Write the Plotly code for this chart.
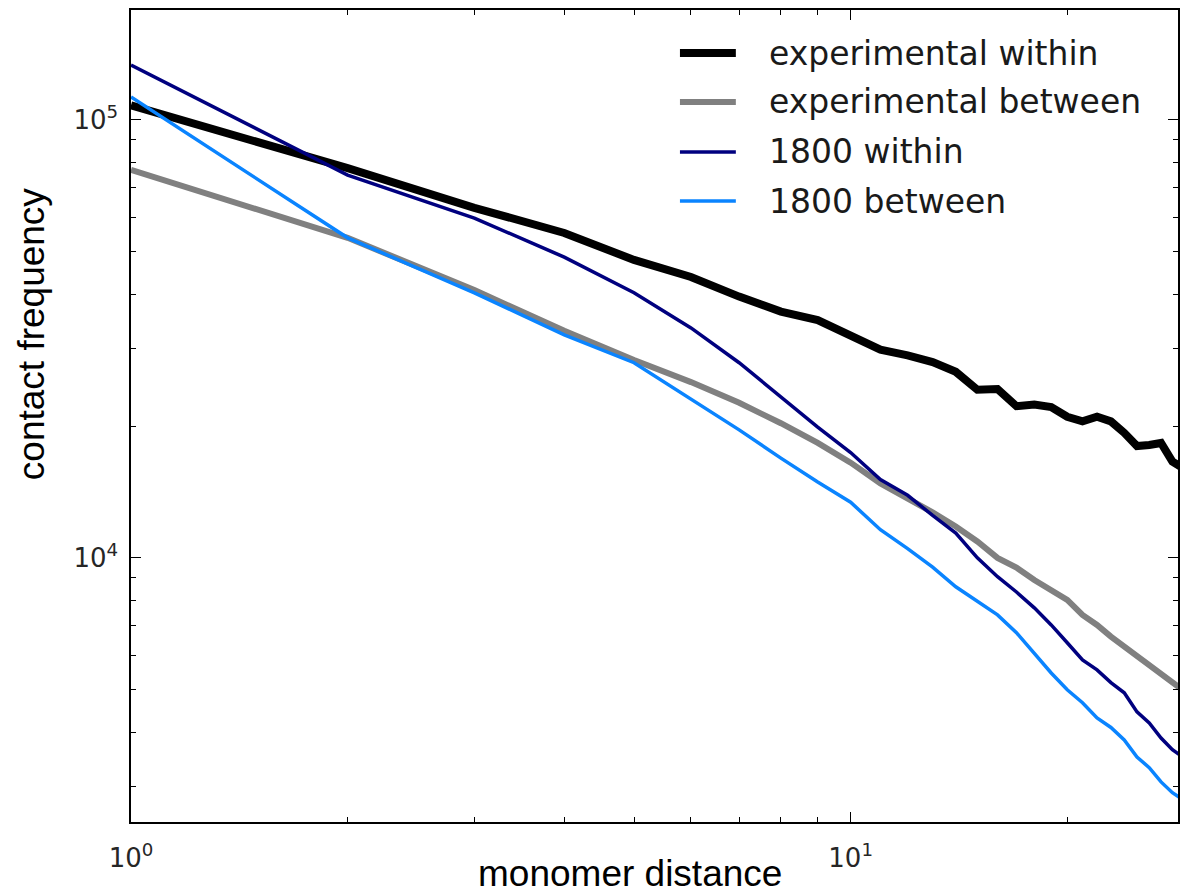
import numpy as np
import plotly.graph_objects as go

# monomer distance (x) and contact frequencies for each curve
distance = list(range(1, 30))

exp_within = [1.08e5, 7.76e4, 6.3e4, 5.52e4, 4.79e4, 4.38e4, 3.95e4, 3.65e4, 3.49e4, 3.23e4,
              2.99e4, 2.90e4, 2.80e4, 2.66e4, 2.42e4, 2.43e4, 2.22e4, 2.24e4, 2.21e4, 2.10e4,
              2.05e4, 2.10e4, 2.05e4, 1.93e4, 1.80e4, 1.81e4, 1.83e4, 1.66e4, 1.60e4]

exp_between = [7.69e4, 5.38e4, 4.09e4, 3.30e4, 2.83e4, 2.52e4, 2.26e4, 2.03e4, 1.83e4, 1.65e4,
               1.48e4, 1.37e4, 1.27e4, 1.18e4, 1.09e4, 1.00e4, 9.5e3, 8.9e3, 8.46e3, 8.02e3,
               7.41e3, 7.03e3, 6.61e3, 6.27e3, 5.95e3, 5.70e3, 5.46e3, 5.19e3, 4.98e3]

sim_within = [1.335e5, 7.48e4, 5.97e4, 4.86e4, 4.03e4, 3.35e4, 2.79e4, 2.33e4, 1.99e4, 1.74e4,
              1.51e4, 1.39e4, 1.25e4, 1.14e4, 1.00e4, 9.06e3, 8.36e3, 7.69e3, 7.03e3, 6.40e3,
              5.85e3, 5.55e3, 5.19e3, 4.92e3, 4.45e3, 4.20e3, 3.88e3, 3.65e3, 3.50e3]

sim_between = [1.128e5, 5.38e4, 4.03e4, 3.23e4, 2.79e4, 2.30e4, 1.96e4, 1.69e4, 1.49e4, 1.34e4,
               1.16e4, 1.05e4, 9.53e3, 8.59e3, 7.94e3, 7.41e3, 6.75e3, 6.07e3, 5.46e3, 5.00e3,
               4.67e3, 4.31e3, 4.10e3, 3.84e3, 3.51e3, 3.32e3, 3.08e3, 2.91e3, 2.80e3]

series_names = ["experimental within", "experimental between", "1800 within", "1800 between"]
series_values = [exp_within, exp_between, sim_within, sim_between]
series_colors = ["#000000", "#808080", "#00007f", "#0a84ff"]
series_widths = [8, 6, 3.5, 3.5]

x_ticks = [1, 10]
x_ticktext = ["10<sup>0</sup>", "10<sup>1</sup>"]
x_minor = [2, 3, 4, 5, 6, 7, 8, 9, 20]
y_ticks = [1e4, 1e5]
y_ticktext = ["10<sup>4</sup>", "10<sup>5</sup>"]
y_minor = [3e3, 4e3, 5e3, 6e3, 7e3, 8e3, 9e3,
           2e4, 3e4, 4e4, 5e4, 6e4, 7e4, 8e4, 9e4]

fig = go.Figure()
for name, vals, col, w in zip(series_names, series_values, series_colors, series_widths):
    fig.add_trace(go.Scatter(x=distance, y=vals, mode="lines", name=name,
                             line=dict(color=col, width=w), showlegend=False))

W, H = 1180, 887
ml, mr, mt, mb = 131, 0, 10, 65
pw, ph = W - ml - mr, H - mt - mb

def px(xp):
    return (xp - ml) / pw

def py(yp):
    return (H - mb - yp) / ph

# legend drawn as line samples plus labels
legend_rows = [53, 102, 152, 201]
for name, col, w, yr in zip(series_names, series_colors, series_widths, legend_rows):
    fig.add_shape(type="line", xref="paper", yref="paper",
                  x0=px(681), x1=px(737), y0=py(yr), y1=py(yr),
                  line=dict(color=col, width=w))
    fig.add_annotation(xref="paper", yref="paper", x=px(768), y=py(yr),
                       xanchor="left", yanchor="middle", text=name, showarrow=False,
                       font=dict(family="DejaVu Sans", size=33, color="#1a1a1a"))

fig.add_annotation(xref="paper", yref="paper", x=px(631), y=py(873),
                   xanchor="center", yanchor="middle", text="monomer distance",
                   showarrow=False, font=dict(family="Liberation Sans", size=37, color="black"))
fig.add_annotation(xref="paper", yref="paper", x=px(32), y=py(334),
                   xanchor="center", yanchor="middle", text="contact frequency", textangle=-90,
                   showarrow=False, font=dict(family="Liberation Sans", size=37, color="black"))

axis_common = dict(
    type="log", showgrid=False, zeroline=False,
    showline=True, linecolor="black", linewidth=1.5, mirror="allticks",
    ticks="inside", ticklen=10, tickwidth=1, tickcolor="black",
    tickfont=dict(family="DejaVu Sans", size=26, color="#262626"),
)

fig.update_xaxes(range=[0, (W - ml) / 721], tickmode="array", tickvals=x_ticks, ticktext=x_ticktext,
                 minor=dict(tickmode="array", tickvals=x_minor, ticks="inside", ticklen=5,
                            tickcolor="black", showgrid=False),
                 ticklabelstandoff=12, **axis_common)
fig.update_yaxes(range=[3.397, 5.251], tickmode="array", tickvals=y_ticks, ticktext=y_ticktext,
                 minor=dict(tickmode="array", tickvals=y_minor, ticks="inside", ticklen=5,
                            tickcolor="black", showgrid=False),
                 ticklabelstandoff=6, **axis_common)

fig.update_layout(width=W, height=H, margin=dict(l=ml, r=mr, t=mt, b=mb),
                  plot_bgcolor="white", paper_bgcolor="white")

fig.write_html("out.html")
